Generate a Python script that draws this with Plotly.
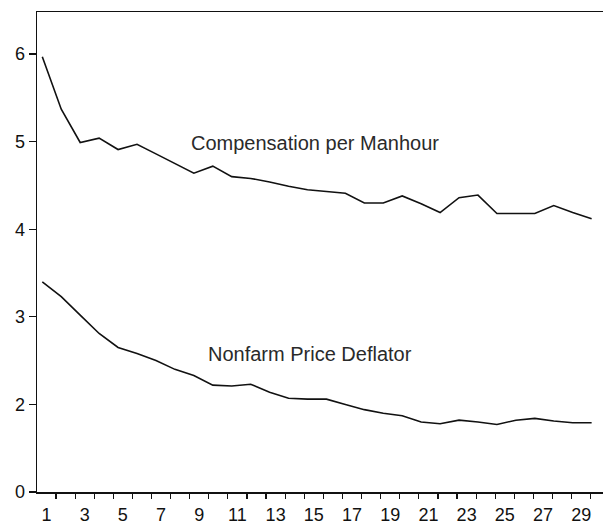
import plotly.graph_objects as go

# observations
obs = list(range(1, 31))
compensation = [5.97, 5.37, 4.99, 5.04, 4.91, 4.97, 4.86, 4.75, 4.64, 4.72,
                4.60, 4.58, 4.54, 4.49, 4.45, 4.43, 4.41, 4.30, 4.30, 4.38,
                4.29, 4.19, 4.36, 4.39, 4.18, 4.18, 4.18, 4.27, 4.19, 4.12]
nonfarm = [3.40, 3.23, 3.02, 2.81, 2.65, 2.58, 2.50, 2.40, 2.33, 2.22,
           2.21, 2.23, 2.14, 2.07, 2.06, 2.06, 2.00, 1.94, 1.90, 1.87,
           1.80, 1.78, 1.82, 1.80, 1.77, 1.82, 1.84, 1.81, 1.79, 1.79]

x_label_vals = list(range(1, 30, 2))
x_label_text = [str(v) for v in x_label_vals]
y_tick_vals = [1, 2, 3, 4, 5, 6]
y_tick_text = ["0", "2", "3", "4", "5", "6"]

FONT = "Liberation Sans, Arial, Helvetica, sans-serif"
LINE = dict(color="#111111", width=1.6)

fig = go.Figure()
fig.add_trace(go.Scatter(x=obs, y=compensation, mode="lines", line=LINE,
                         name="Compensation per Manhour", hoverinfo="skip"))
fig.add_trace(go.Scatter(x=obs, y=nonfarm, mode="lines", line=LINE,
                         name="Nonfarm Price Deflator", hoverinfo="skip"))
# carrier for the label axis
fig.add_trace(go.Scatter(x=[x_label_vals[0], x_label_vals[-1]], y=[None, None],
                         xaxis="x2", mode="lines", showlegend=False, hoverinfo="skip"))

fig.add_annotation(x=8.76, y=4.99, xref="x", yref="y", text="Compensation per Manhour",
                   showarrow=False, xanchor="left", yanchor="middle",
                   font=dict(family=FONT, size=20, color="#2a2a2a"))
fig.add_annotation(x=9.63, y=2.57, xref="x", yref="y", text="Nonfarm Price Deflator",
                   showarrow=False, xanchor="left", yanchor="middle",
                   font=dict(family=FONT, size=20, color="#2a2a2a"))

fig.update_layout(
    width=603, height=524, autosize=False,
    margin=dict(l=37, r=0, t=12, b=32, pad=0),
    paper_bgcolor="white", plot_bgcolor="white",
    showlegend=False,
    font=dict(family=FONT, size=18, color="#111111"),
    xaxis=dict(range=[0.72, 30.6], showgrid=False, zeroline=False,
               showline=True, linecolor="#111111", linewidth=1.5, mirror=True,
               ticks="", showticklabels=False),
    xaxis2=dict(overlaying="x", side="bottom", range=[0.505, 30.14],
                showgrid=False, zeroline=False, showline=False,
                tickmode="array", tickvals=x_label_vals, ticktext=x_label_text,
                ticks="outside", ticklen=6, tickcolor="rgba(0,0,0,0)",
                tickfont=dict(family=FONT, size=18, color="#111111"),
                minor=dict(ticks="outside", tick0=0.5, dtick=1, ticklen=6,
                           tickwidth=1.2, tickcolor="#111111", showgrid=False)),
    yaxis=dict(range=[1.0, 6.48], showgrid=False, zeroline=False,
               showline=True, linecolor="#111111", linewidth=1.5,
               tickmode="array", tickvals=y_tick_vals, ticktext=y_tick_text,
               ticks="outside", ticklen=7, tickwidth=1.2, tickcolor="#111111",
               tickfont=dict(family=FONT, size=18, color="#111111")),
)

fig.write_html("out.html",
               config={"displayModeBar": False, "staticPlot": True},
               post_script="document.body.style.margin='0';document.body.style.overflow='hidden';")
